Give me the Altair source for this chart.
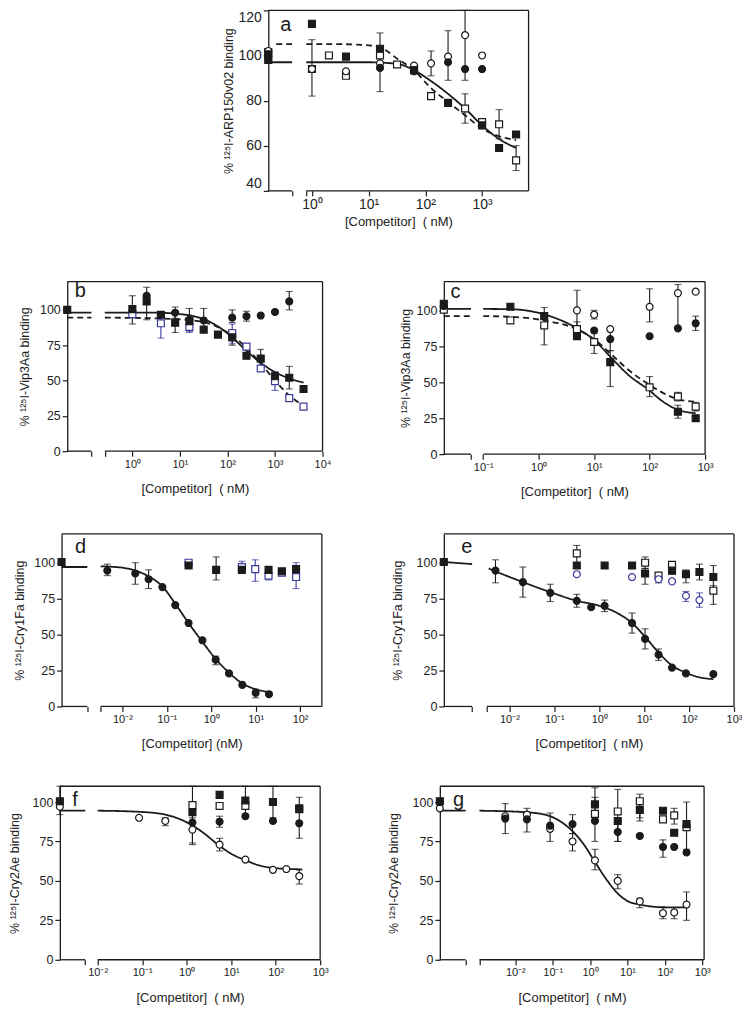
import altair as alt
import pandas as pd

FONT = "Liberation Sans"
INK = "#1b1b1b"
NAVY = "#3a3a9c"
TXT = "#222222"

# ---------------- panel a ----------------
A_XMIN, A_XMAX, A_B1, A_B2 = -0.77, 3.82, -0.35, -0.10
A_TICKS = [0, 1, 2, 3]
A_TICK_LABELS = ["10⁰", "10¹", "10²", "10³"]
A_YTICKS = [40, 60, 80, 100, 120]
A_FSQ_X = [A_XMIN, A_XMIN, 0, 0.6, 1.2, 1.8, 2.4, 3.0, 3.3, 3.6]
A_FSQ_Y = [100.5, 98, 114, 99.5, 103, 93.5, 79, 69, 59, 65]
A_OSQ_X = [A_XMIN, 0, 0.3, 0.6, 1.2, 1.5, 1.8, 2.1, 2.7, 3.0, 3.3, 3.6]
A_OSQ_Y = [101.5, 94, 100, 91, 100, 96, 94, 82, 76.5, 70.5, 69.5, 53.5]
A_OSQ_LO = [None, None, None, None, None, None, None, None, 70, None, 63, 49]
A_OSQ_HI = [None, None, None, None, None, None, None, None, 83, None, 76, 60]
A_OCI_X = [A_XMIN, 0, 0.6, 1.2, 1.8, 2.1, 2.4, 2.7, 3.0]
A_OCI_Y = [102, 94, 93, 96.5, 95.5, 96.5, 99.5, 109, 100]
A_OCI_LO = [None, 82, None, 84, None, 91, 89, 89, None]
A_OCI_HI = [None, 107, None, 110, None, 102, 111, 120, None]
A_FCI_X = [A_XMIN, 1.2, 1.8, 2.4, 2.7, 3.0]
A_FCI_Y = [98, 94.5, 93, 97, 94, 94]
A_SOLID_L_X = [A_XMIN, A_B1]
A_SOLID_L_Y = [97, 97]
A_SOLID_X = [A_B2, 1.0, 1.5, 1.8, 2.08, 2.4, 2.7, 3.0, 3.3, 3.6]
A_SOLID_Y = [97, 97, 96.3, 93.5, 89, 83, 76.5, 69, 63, 59]
A_DASH_L_X = [-0.63, A_B1]
A_DASH_L_Y = [105, 105]
A_DASH_X = [A_B2, 0.5, 1.0, 1.3, 1.5, 1.8, 2.08, 2.4, 2.7, 3.0, 3.3, 3.6]
A_DASH_Y = [105, 105, 104.5, 102.3, 98.6, 93.5, 86, 79.4, 73.5, 67.6, 64.2, 62.5]

# ---------------- panel b ----------------
B_XMIN, B_XMAX, B_B1, B_B2 = -1.37, 4.0, -0.86, -0.58
B_TICKS = [0, 1, 2, 3, 4]
B_TICK_LABELS = ["10⁰", "10¹", "10²", "10³", "10⁴"]
Y_TICKS = [0, 25, 50, 75, 100]
B_FSQ_X = [B_XMIN, 0, 0.3, 0.6, 0.9, 1.2, 1.5, 1.8, 2.1, 2.4, 2.7, 3.0, 3.3, 3.6]
B_FSQ_Y = [100, 100.5, 106, 96.5, 91, 92, 86, 82.5, 80.5, 67.5, 65.5, 53, 52, 44]
B_FSQ_LO = [None, 90, 93, None, 84, None, None, None, 75, None, 58, 48, 44, None]
B_FSQ_HI = [None, 110, 110, None, 98, None, None, None, 86, None, 72, 56, 60, None]
B_OSQ_X = [0, 0.6, 1.2, 2.1, 2.4, 2.7, 3.0, 3.3, 3.6]
B_OSQ_Y = [97, 90.5, 88, 83.5, 74, 58.5, 49.5, 37.5, 31.5]
B_OSQ_LO = [None, 80, 84, 76, None, None, 43, None, None]
B_OSQ_HI = [None, 98, 92, 90, None, None, 56, None, None]
B_FCI_X = [0.3, 0.9, 1.2, 1.5, 2.1, 2.4, 2.7, 3.0, 3.3]
B_FCI_Y = [110, 98, 93, 92.5, 94.5, 95.5, 96, 98.5, 106]
B_FCI_LO = [104, 94, 85, 87, 91, 92, None, None, 100]
B_FCI_HI = [116, 102, 101, 101, 100, 99, None, None, 113]
B_SOLID_L_X = [B_XMIN, B_B1]
B_SOLID_L_Y = [98, 98]
B_SOLID_X = [B_B2, 0.5, 1.0, 1.3, 1.6, 1.9, 2.1, 2.4, 2.7, 3.0, 3.3, 3.6]
B_SOLID_Y = [98, 98, 97, 95.5, 92, 86, 80.5, 71, 62.5, 56, 51.5, 48.5]
B_DASH_L_X = [B_XMIN, B_B1]
B_DASH_L_Y = [94.5, 94.5]
B_DASH_X = [B_B2, 0.5, 1.0, 1.3, 1.6, 1.9, 2.1, 2.4, 2.7, 3.0, 3.3, 3.6]
B_DASH_Y = [94.5, 94, 93.3, 92.5, 90.5, 86, 82, 73, 62, 50, 39.5, 32]

# ---------------- panel c ----------------
C_XMIN, C_XMAX, C_B1, C_B2 = -1.71, 3.0, -1.22, -1.0
C_TICKS = [-1, 0, 1, 2, 3]
C_TICK_LABELS = ["10⁻¹", "10⁰", "10¹", "10²", "10³"]
C_FSQ_X = [C_XMIN, -0.51, 0.1, 0.69, 1.29, 2.51, 2.83]
C_FSQ_Y = [104.5, 102.5, 96, 82, 64, 29.5, 25]
C_FSQ_LO = [None, None, None, None, 47, 25, None]
C_FSQ_HI = [None, None, None, None, 72, 34, None]
C_OSQ_X = [C_XMIN, -0.51, 0.1, 0.69, 1.0, 2.0, 2.51, 2.83]
C_OSQ_Y = [100.5, 93, 89.5, 87, 78, 46.5, 40, 33]
C_OSQ_LO = [None, None, 76, 82, 70, 40, 37, 30]
C_OSQ_HI = [None, None, 102, 92, 84, 54, 43, 36]
C_OCI_X = [0.69, 1.0, 1.29, 2.0, 2.51, 2.83]
C_OCI_Y = [100, 97, 87, 102.5, 112, 113]
C_OCI_LO = [88, 94, None, 92, 87, None]
C_OCI_HI = [114, 100, None, 115, 118, None]
C_FCI_X = [C_XMIN, 1.0, 1.29, 2.0, 2.51, 2.83]
C_FCI_Y = [103, 86, 80, 82, 87.5, 91]
C_FCI_LO = [None, None, 72, None, None, 86]
C_FCI_HI = [None, None, 87, None, None, 96]
C_SOLID_L_X = [C_XMIN, C_B1]
C_SOLID_L_Y = [101, 101]
C_SOLID_X = [C_B2, -0.5, 0.1, 0.69, 1.0, 1.29, 1.62, 2.0, 2.2, 2.51, 2.83]
C_SOLID_Y = [101, 100.8, 97.2, 87.5, 79.4, 67.8, 55, 44.2, 37.7, 30.8, 28.5]
C_DASH_L_X = [C_XMIN, C_B1]
C_DASH_L_Y = [96, 96]
C_DASH_X = [C_B2, -0.5, 0.1, 0.69, 1.0, 1.29, 1.62, 2.0, 2.2, 2.51, 2.83]
C_DASH_Y = [96, 95.5, 93, 86.8, 79.9, 70.1, 58.5, 48.1, 43.5, 38.2, 36.5]

# ---------------- panel d ----------------
D_XMIN, D_XMAX, D_B1, D_B2 = -3.37, 2.49, -2.79, -2.49
D_TICKS = [-2, -1, 0, 1, 2]
D_TICK_LABELS = ["10⁻²", "10⁻¹", "10⁰", "10¹", "10²"]
D_FCI_X = [-2.34, -1.71, -1.41, -1.10, -0.81, -0.51, -0.20, 0.10, 0.40, 0.70, 1.0, 1.30]
D_FCI_Y = [94.5, 92.5, 88.5, 83, 70.5, 58, 46, 32.5, 23, 15, 9.5, 8.5]
D_FCI_LO = [91, 85, 82, None, None, None, None, 29, None, None, 6, None]
D_FCI_HI = [99, 100, 95, None, None, None, None, 35, None, None, 12, None]
D_FSQ_X = [D_XMIN, -0.51, 0.11, 0.69, 1.29, 1.59, 1.91]
D_FSQ_Y = [100.5, 98, 95, 95, 95, 94, 95.5]
D_FSQ_LO = [None, None, 88, None, None, None, None]
D_FSQ_HI = [None, None, 104, None, None, None, None]
D_OSQ_X = [-0.51, 0.69, 0.99, 1.29, 1.59, 1.91]
D_OSQ_Y = [100, 97, 95.5, 91, 93, 90]
D_OSQ_LO = [None, 93, 87, 88, None, 82]
D_OSQ_HI = [None, 101, 102, 97, None, 100]
D_SOLID_L_X = [D_XMIN, D_B1]
D_SOLID_L_Y = [97, 97]
D_SOLID_X = [D_B2, -2.0, -1.71, -1.41, -1.10, -0.81, -0.51, -0.20, 0.10, 0.40, 0.70, 1.0, 1.3]
D_SOLID_Y = [97.5, 96.5, 94.5, 90.5, 83.5, 71.5, 58, 45, 33, 23.5, 16, 12, 10]

# ---------------- panel e ----------------
E_XMIN, E_XMAX, E_B1, E_B2 = -3.46, 3.0, -2.83, -2.5
E_TICKS = [-2, -1, 0, 1, 2, 3]
E_TICK_LABELS = ["10⁻²", "10⁻¹", "10⁰", "10¹", "10²", "10³"]
E_FCI_X = [-2.31, -1.70, -1.09, -0.50, -0.18, 0.12, 0.73, 1.02, 1.32, 1.62, 1.93, 2.54]
E_FCI_Y = [94.5, 86.5, 79, 73.5, 69, 70, 58, 47, 36, 27, 23, 22.5]
E_FCI_LO = [86, 76, 73, 69, None, 66, 51, 40, 32, None, None, None]
E_FCI_HI = [102, 97, 85, 78, None, 74, 65, 54, 40, None, None, None]
E_FSQ_X = [E_XMIN, -0.5, 0.12, 0.73, 1.02, 1.62, 1.93, 2.23, 2.54]
E_FSQ_Y = [100.5, 98, 98, 98, 92.5, 94.5, 92, 93.5, 90]
E_FSQ_LO = [None, None, None, None, 85, None, 86, 88, 82]
E_FSQ_HI = [None, None, None, None, 96, None, 95, 99, 98]
E_OSQ_X = [-0.5, 1.02, 1.32, 1.62, 2.54]
E_OSQ_Y = [106.5, 100, 91, 98.5, 80.5]
E_OSQ_LO = [99, 96, 86, 92, 71]
E_OSQ_HI = [112, 104, 92, 100, 84]
E_OCI_X = [-0.5, 0.73, 1.32, 1.62, 1.93, 2.23]
E_OCI_Y = [92, 90, 88.5, 87, 77, 74]
E_OCI_LO = [None, None, None, None, 73, 69]
E_OCI_HI = [None, None, None, None, 80, 79]
E_SOLID_L_X = [E_XMIN, E_B1]
E_SOLID_L_Y = [100.5, 99]
E_SOLID_X = [-2.46, -2.31, -1.70, -1.09, -0.5, 0.0, 0.4, 0.73, 1.02, 1.32, 1.62, 1.93, 2.2, 2.54]
E_SOLID_Y = [96, 94, 86.5, 79.5, 73.5, 70, 65, 58, 48.5, 37.5, 28.5, 23.5, 20.5, 19]

# ---------------- panel f ----------------
F_XMIN, F_XMAX, F_B1, F_B2 = -2.85, 3.0, -2.28, -2.0
F_TICKS = [-2, -1, 0, 1, 2, 3]
F_TICK_LABELS = ["10⁻²", "10⁻¹", "10⁰", "10¹", "10²", "10³"]
F_OCI_X = [F_XMIN, -1.07, -0.48, 0.13, 0.74, 1.32, 1.94, 2.24, 2.53]
F_OCI_Y = [97, 90, 88, 82.5, 73, 63.5, 57, 57.5, 53]
F_OCI_LO = [None, None, 85, 73, 69, None, None, None, 48]
F_OCI_HI = [None, None, 90, 90, 77, None, None, None, 57]
F_FSQ_X = [F_XMIN, 0.13, 0.74, 1.32, 1.94, 2.53]
F_FSQ_Y = [100.5, 93.5, 104.5, 101, 100, 96]
F_FSQ_LO = [92, 74, None, 91, 90, 77]
F_FSQ_HI = [110, 110, None, 110, 110, 103]
F_OSQ_X = [0.13, 0.74, 1.32, 2.53]
F_OSQ_Y = [98, 97.5, 97.5, 95.5]
F_FCI_X = [0.13, 0.74, 1.32, 1.94, 2.53]
F_FCI_Y = [87, 87.5, 91, 88, 86.5]
F_FCI_LO = [None, 84, None, None, None]
F_FCI_HI = [None, 91, None, None, None]
F_SOLID_L_X = [F_XMIN, F_B1]
F_SOLID_L_Y = [94.5, 94.5]
F_SOLID_X = [F_B2, -1.07, -0.48, 0.05, 0.35, 0.74, 1.02, 1.32, 1.62, 1.94, 2.59]
F_SOLID_Y = [94.5, 93.8, 92, 86.4, 81, 72.2, 66.9, 63.1, 59.9, 58.2, 57.3]

# ---------------- panel g ----------------
G_XMIN, G_XMAX, G_B1, G_B2 = -4.02, 3.05, -3.33, -2.96
G_TICKS = [-2, -1, 0, 1, 2, 3]
G_TICK_LABELS = ["10⁻²", "10⁻¹", "10⁰", "10¹", "10²", "10³"]
G_CONC_X = [G_XMIN, -2.27, -1.69, -1.07, -0.47, 0.13, 0.74, 1.33, 1.95, 2.25, 2.58]
G_FCI_Y = [100, 89.5, 89, 85, 86, 88, 81, 78.5, 71.5, 71.5, 68]
G_FCI_LO = [None, 80, 81, 75, 80, 75, 75, None, 65, None, None]
G_FCI_HI = [None, 99, 96, 93, 92, 103, 86, None, 76, None, None]
G_OCI_Y = [96, 91, 92, 83, 75, 63, 50, 37, 29.5, 30, 35]
G_OCI_LO = [None, None, None, None, 69, 57, 45, 33, 26, 26, 25]
G_OCI_HI = [None, None, None, None, 80, 70, 54, 39, 33, 33, 43]
G_FSQ_X = [G_XMIN, 0.13, 0.74, 1.33, 1.95, 2.25, 2.58]
G_FSQ_Y = [100.5, 98.5, 88, 95, 94.5, 80.5, 86]
G_FSQ_LO = [None, 88, None, 88, None, None, None]
G_FSQ_HI = [None, 109, None, 100, None, None, None]
G_OSQ_X = [0.13, 0.74, 1.33, 1.95, 2.25, 2.58]
G_OSQ_Y = [92.5, 94, 100.5, 89, 91.5, 84]
G_OSQ_LO = [None, 75, 90, None, 86, 70]
G_OSQ_HI = [None, 108, 105, None, 96, 100]
G_SOLID_L_X = [G_XMIN, G_B1]
G_SOLID_L_Y = [94.5, 94.5]
G_SOLID_X = [G_B2, -1.69, -1.07, -0.75, -0.47, -0.18, 0.13, 0.45, 0.74, 1.02, 1.33, 1.95, 2.62]
G_SOLID_Y = [94.5, 93.5, 91, 87, 81.5, 73.5, 62, 50.5, 42, 37, 35, 33.3, 33.2]

# ---------------- styles ----------------
KEYS = ["fsq", "osq", "osqb", "fci", "oci", "ocib"]
SHAPES = ["square", "square", "square", "circle", "circle", "circle"]
FILLS = [INK, "white", "white", INK, "white", "white"]
STROKES = [INK, INK, NAVY, INK, INK, NAVY]

NB = "\u00a0"
XT1 = "[Competitor]" + NB + NB + "(" + NB + "nM)"
XT2 = "[Competitor]" + NB + "(nM)"


def ser(key, xs, ys, lo=None, hi=None):
    n = len(xs)
    return pd.DataFrame({
        "lx": xs, "y": ys,
        "lo": lo if lo is not None else [None] * n,
        "hi": hi if hi is not None else [None] * n,
        "s": [key] * n,
    })


def crv(name, style, xs, ys):
    return pd.DataFrame({"lx": xs, "y": ys, "seg": [name] * len(xs), "st": [style] * len(xs)})


def label_expr(ticks, labels):
    parts = [f"datum.value == {v} ? '{t}'" for v, t in zip(ticks, labels)]
    return " : ".join(parts) + " : ''"


def panel(P):
    xs = alt.Scale(domain=[P["xmin"], P["xmax"]], nice=False, zero=False)
    ys = alt.Scale(domain=[P["ymin"], P["ymax"]], nice=False, zero=False)
    xax = alt.Axis(values=P["ticks"] + [P["b1"], P["b2"]],
                   labelExpr=label_expr(P["ticks"], P["labels"]),
                   domain=False, grid=False, tickSize=5, tickColor=INK, tickWidth=1.2,
                   labelFont=FONT, labelFontSize=P["xls"], labelColor=TXT, labelPadding=2,
                   labelOverlap=False, labelFlush=False,
                   title=P["xtitle"], titleFont=FONT, titleFontSize=13, titleFontWeight="normal",
                   titleColor=TXT, titlePadding=P["xtp"])
    yax = alt.Axis(values=P["yticks"], grid=False, domain=True, domainColor=INK, domainWidth=1.3,
                   tickSize=5, tickColor=INK, tickWidth=1.2,
                   labelFont=FONT, labelFontSize=P["yls"], labelColor=TXT, labelPadding=2,
                   labelFlush=P.get("flush", False),
                   title=P["ytitle"], titleFont=FONT, titleFontSize=12.5, titleFontWeight="normal",
                   titleColor=TXT, titlePadding=P["ytp"])

    def X(f):
        return alt.X(f"{f}:Q", scale=xs, axis=xax)

    def Y(f):
        return alt.Y(f"{f}:Q", scale=ys, axis=yax)

    xmin, xmax, b1, b2, ymin, ymax = P["xmin"], P["xmax"], P["b1"], P["b2"], P["ymin"], P["ymax"]
    frame_df = pd.DataFrame({
        "lx": [xmin, xmax, xmin, b2],
        "lx2": [xmax, xmax, b1, xmax],
        "y": [ymax, ymin, ymin, ymin],
        "y2": [ymax, ymax, ymin, ymin],
    })
    frame = alt.Chart(frame_df).mark_rule(color=INK, strokeWidth=1.3).encode(
        x=X("lx"), x2="lx2", y=Y("y"), y2="y2")

    cdf = pd.concat(P["curves"], ignore_index=True)
    curves = alt.Chart(cdf).mark_line(color=INK, strokeWidth=1.8, interpolate="monotone").encode(
        x=X("lx"), y=Y("y"), detail="seg:N",
        strokeDash=alt.StrokeDash("st:N", scale=alt.Scale(domain=["solid", "dash"],
                                                           range=[[1, 0], [6, 4]]), legend=None))

    pdf = pd.concat(P["series"], ignore_index=True)
    eb = pdf.dropna(subset=["lo", "hi"])
    col = alt.Color("s:N", scale=alt.Scale(domain=KEYS, range=STROKES), legend=None)
    bars = alt.Chart(eb).mark_rule(strokeWidth=1.1).encode(x=X("lx"), y=Y("lo"), y2="hi", color=col)
    cap_lo = alt.Chart(eb).mark_tick(orient="horizontal", size=7, thickness=1.1).encode(
        x=X("lx"), y=Y("lo"), color=col)
    cap_hi = alt.Chart(eb).mark_tick(orient="horizontal", size=7, thickness=1.1).encode(
        x=X("lx"), y=Y("hi"), color=col)
    pts = alt.Chart(pdf).mark_point(filled=True, size=48, strokeWidth=1.2, opacity=1).encode(
        x=X("lx"), y=Y("y"),
        shape=alt.Shape("s:N", scale=alt.Scale(domain=KEYS, range=SHAPES), legend=None),
        fill=alt.Fill("s:N", scale=alt.Scale(domain=KEYS, range=FILLS), legend=None),
        stroke=alt.Stroke("s:N", scale=alt.Scale(domain=KEYS, range=STROKES), legend=None))
    lx, ly, lt = P["letter"]
    letter = alt.Chart(pd.DataFrame({"lx": [lx], "y": [ly], "t": [lt]})).mark_text(
        font=FONT, fontSize=20, align="left", baseline="middle", color=INK).encode(
        x=X("lx"), y=Y("y"), text="t:N")
    return alt.layer(frame, curves, bars, cap_lo, cap_hi, pts, letter).properties(
        width=P["w"], height=P["h"])


def spacer(w, h=1):
    return alt.Chart(pd.DataFrame({"lx": [0.0]})).mark_point(opacity=0, size=0, strokeWidth=0).encode(
        x=alt.X("lx:Q", axis=None)).properties(width=w, height=h)


PA = dict(xmin=A_XMIN, xmax=A_XMAX, b1=A_B1, b2=A_B2, ymin=40, ymax=120, yticks=A_YTICKS,
          ticks=A_TICKS, labels=A_TICK_LABELS, w=261, h=181, xls=14, yls=14, xtp=3.5, ytp=2.4,
          flush=True, xtitle=XT1, ytitle="% ¹²⁵I-ARP150v02 binding", letter=(-0.56, 113.5, "a"),
          series=[ser("osq", A_OSQ_X, A_OSQ_Y, A_OSQ_LO, A_OSQ_HI),
                  ser("oci", A_OCI_X, A_OCI_Y, A_OCI_LO, A_OCI_HI),
                  ser("fci", A_FCI_X, A_FCI_Y),
                  ser("fsq", A_FSQ_X, A_FSQ_Y)],
          curves=[crv("sL", "solid", A_SOLID_L_X, A_SOLID_L_Y), crv("s", "solid", A_SOLID_X, A_SOLID_Y),
                  crv("dL", "dash", A_DASH_L_X, A_DASH_L_Y), crv("d", "dash", A_DASH_X, A_DASH_Y)])

PB = dict(xmin=B_XMIN, xmax=B_XMAX, b1=B_B1, b2=B_B2, ymin=0, ymax=120, yticks=Y_TICKS,
          ticks=B_TICKS, labels=B_TICK_LABELS, w=256, h=170, xls=11, yls=12.5, xtp=13.5, ytp=8.3,
          xtitle=XT1, ytitle="% ¹²⁵I-Vip3Aa binding", letter=(-1.21, 113, "b"),
          series=[ser("osqb", B_OSQ_X, B_OSQ_Y, B_OSQ_LO, B_OSQ_HI),
                  ser("fci", B_FCI_X, B_FCI_Y, B_FCI_LO, B_FCI_HI),
                  ser("fsq", B_FSQ_X, B_FSQ_Y, B_FSQ_LO, B_FSQ_HI)],
          curves=[crv("sL", "solid", B_SOLID_L_X, B_SOLID_L_Y), crv("s", "solid", B_SOLID_X, B_SOLID_Y),
                  crv("dL", "dash", B_DASH_L_X, B_DASH_L_Y), crv("d", "dash", B_DASH_X, B_DASH_Y)])

PC = dict(xmin=C_XMIN, xmax=C_XMAX, b1=C_B1, b2=C_B2, ymin=0, ymax=120, yticks=Y_TICKS,
          ticks=C_TICKS, labels=C_TICK_LABELS, w=262, h=173, xls=11, yls=12.5, xtp=13.5, ytp=3.2,
          xtitle=XT1, ytitle="% ¹²⁵I-Vip3Aa binding", letter=(-1.59, 113, "c"),
          series=[ser("osq", C_OSQ_X, C_OSQ_Y, C_OSQ_LO, C_OSQ_HI),
                  ser("oci", C_OCI_X, C_OCI_Y, C_OCI_LO, C_OCI_HI),
                  ser("fci", C_FCI_X, C_FCI_Y, C_FCI_LO, C_FCI_HI),
                  ser("fsq", C_FSQ_X, C_FSQ_Y, C_FSQ_LO, C_FSQ_HI)],
          curves=[crv("sL", "solid", C_SOLID_L_X, C_SOLID_L_Y), crv("s", "solid", C_SOLID_X, C_SOLID_Y),
                  crv("dL", "dash", C_DASH_L_X, C_DASH_L_Y), crv("d", "dash", C_DASH_X, C_DASH_Y)])

PD = dict(xmin=D_XMIN, xmax=D_XMAX, b1=D_B1, b2=D_B2, ymin=0, ymax=120, yticks=Y_TICKS,
          ticks=D_TICKS, labels=D_TICK_LABELS, w=261, h=173, xls=11, yls=12.5, xtp=13.5, ytp=7.6,
          xtitle=XT2, ytitle="% ¹²⁵I-Cry1Fa binding", letter=(-3.07, 110.6, "d"),
          series=[ser("osqb", D_OSQ_X, D_OSQ_Y, D_OSQ_LO, D_OSQ_HI),
                  ser("fsq", D_FSQ_X, D_FSQ_Y, D_FSQ_LO, D_FSQ_HI),
                  ser("fci", D_FCI_X, D_FCI_Y, D_FCI_LO, D_FCI_HI)],
          curves=[crv("sL", "solid", D_SOLID_L_X, D_SOLID_L_Y), crv("s", "solid", D_SOLID_X, D_SOLID_Y)])

PE = dict(xmin=E_XMIN, xmax=E_XMAX, b1=E_B1, b2=E_B2, ymin=0, ymax=120, yticks=Y_TICKS,
          ticks=E_TICKS, labels=E_TICK_LABELS, w=291, h=173, xls=11, yls=12.5, xtp=13.5, ytp=11.5,
          xtitle=XT1, ytitle="% ¹²⁵I-Cry1Fa binding", letter=(-3.07, 111, "e"),
          series=[ser("osq", E_OSQ_X, E_OSQ_Y, E_OSQ_LO, E_OSQ_HI),
                  ser("ocib", E_OCI_X, E_OCI_Y, E_OCI_LO, E_OCI_HI),
                  ser("fsq", E_FSQ_X, E_FSQ_Y, E_FSQ_LO, E_FSQ_HI),
                  ser("fci", E_FCI_X, E_FCI_Y, E_FCI_LO, E_FCI_HI)],
          curves=[crv("sL", "solid", E_SOLID_L_X, E_SOLID_L_Y), crv("s", "solid", E_SOLID_X, E_SOLID_Y)])

PF = dict(xmin=F_XMIN, xmax=F_XMAX, b1=F_B1, b2=F_B2, ymin=0, ymax=110, yticks=Y_TICKS,
          ticks=F_TICKS, labels=F_TICK_LABELS, w=261, h=174, xls=11, yls=12.5, xtp=13.5, ytp=11,
          xtitle=XT1, ytitle="% ¹²⁵I-Cry2Ae binding", letter=(-2.57, 101, "f"),
          series=[ser("oci", F_OCI_X, F_OCI_Y, F_OCI_LO, F_OCI_HI),
                  ser("osq", F_OSQ_X, F_OSQ_Y),
                  ser("fci", F_FCI_X, F_FCI_Y, F_FCI_LO, F_FCI_HI),
                  ser("fsq", F_FSQ_X, F_FSQ_Y, F_FSQ_LO, F_FSQ_HI)],
          curves=[crv("sL", "solid", F_SOLID_L_X, F_SOLID_L_Y), crv("s", "solid", F_SOLID_X, F_SOLID_Y)])

PG = dict(xmin=G_XMIN, xmax=G_XMAX, b1=G_B1, b2=G_B2, ymin=0, ymax=110, yticks=Y_TICKS,
          ticks=G_TICKS, labels=G_TICK_LABELS, w=265, h=174, xls=11, yls=12.5, xtp=13.5, ytp=12,
          xtitle=XT1, ytitle="% ¹²⁵I-Cry2Ae binding", letter=(-3.67, 101, "g"),
          series=[ser("oci", G_CONC_X, G_OCI_Y, G_OCI_LO, G_OCI_HI),
                  ser("osq", G_OSQ_X, G_OSQ_Y, G_OSQ_LO, G_OSQ_HI),
                  ser("fsq", G_FSQ_X, G_FSQ_Y, G_FSQ_LO, G_FSQ_HI),
                  ser("fci", G_CONC_X, G_FCI_Y, G_FCI_LO, G_FCI_HI)],
          curves=[crv("sL", "solid", G_SOLID_L_X, G_SOLID_L_Y), crv("s", "solid", G_SOLID_X, G_SOLID_Y)])

row_a = alt.hconcat(spacer(200.7), panel(PA), spacing=8, bounds="flush")
row_bc = alt.hconcat(spacer(2), alt.hconcat(panel(PB), panel(PC), spacing=121.6, bounds="flush"),
                     spacing=5.4, bounds="flush")
row_de = alt.hconcat(spacer(1), alt.hconcat(panel(PD), panel(PE), spacing=122.3, bounds="flush"),
                     spacing=0.7, bounds="flush")
row_fg = alt.hconcat(panel(PF), panel(PG), spacing=120, bounds="flush")
inner = alt.vconcat(row_bc, row_de, row_fg, spacing=34, bounds="full")

chart = alt.vconcat(row_a, inner, spacing=52, bounds="full").configure_view(
    stroke=None).properties(padding=0, background="white")

chart.save("out.html", embed_options={"renderer": "svg", "actions": False})
